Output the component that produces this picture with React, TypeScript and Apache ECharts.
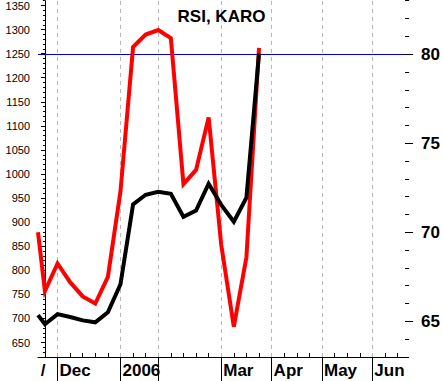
import { useEffect, useRef } from 'react';
import * as echarts from 'echarts';

// weekly positions (-0.55 is the left edge of the plot, where both lines enter)
const weekIndex = [-0.55, 0, 1, 2, 3, 4, 5, 6, 7, 8, 9, 10, 11, 12, 13, 14, 15, 16, 17];
// RSI (right axis)
const rsiValues = [70.0, 66.7, 68.25, 67.2, 66.4, 66.0, 67.5, 72.3, 80.4, 81.1, 81.35, 80.9, 72.7, 73.5, 76.45, 69.3, 64.7, 68.6, 80.35];
// KARO price (left axis)
const karoValues = [707, 688, 709, 703, 696, 692, 713, 771, 937, 957, 963, 959, 911, 924, 980, 936, 901, 951, 1250];

const monthTicks = [1, 6, 9, 14, 18, 22, 26];
const monthLabelValues = [-0.5, 1, 6, 14, 18, 22, 26];
const monthLabels = ['/', 'Dec', '2006', 'Mar', 'Apr', 'May', 'Jun'];

const leftTicks = [650, 700, 750, 800, 850, 900, 950, 1000, 1050, 1100, 1150, 1200, 1250, 1300, 1350];
const rightTicks = [65, 70, 75, 80];
const rsiLevel = 80;

export default function App() {
  const ref = useRef<HTMLDivElement>(null);
  useEffect(() => {
    if (!ref.current) return;
    const chart = echarts.init(ref.current, null, { renderer: 'svg' });
    const weekTicks = Array.from({ length: 29 }, (_, i) => i);
    const leftMinor: number[] = [];
    for (let v = 630; v <= 1360; v += 10) leftMinor.push(v);
    const rightMinor: number[] = [];
    for (let v = 63; v <= 83; v += 1) rightMinor.push(v);

    const xRange = { min: -0.55, max: 28.6 };
    chart.setOption({
      animation: false,
      title: {
        text: 'RSI, KARO',
        left: 'center',
        top: 3,
        textStyle: { fontSize: 17, fontWeight: 'bold', fontFamily: 'Liberation Sans', color: '#000' },
      },
      grid: { left: 38, right: 37.5, top: 0, bottom: 24 },
      xAxis: [
        {
          type: 'value', position: 'bottom', ...xRange,
          axisLine: { show: true, lineStyle: { color: '#000', width: 1 } },
          axisTick: { show: true, inside: true, length: 4, customValues: weekTicks, lineStyle: { color: '#000' } },
          axisLabel: { show: false },
          splitLine: { show: false },
        },
        {
          type: 'value', position: 'bottom', offset: 0, ...xRange,
          axisLine: { show: false },
          axisTick: { show: true, length: 24, customValues: monthTicks, lineStyle: { color: '#000' } },
          axisLabel: {
            show: true, customValues: monthLabelValues, align: 'left', margin: 5, padding: [0, 0, 0, 2],
            fontSize: 17, fontWeight: 'bold', fontFamily: 'Liberation Sans', color: '#000',
            formatter: (v: number) => {
              const i = monthLabelValues.indexOf(v);
              return i >= 0 ? monthLabels[i] : '';
            },
          },
          splitLine: { show: false },
        },
      ],
      yAxis: [
        {
          type: 'value', position: 'left', min: 620, max: 1360,
          axisLine: { show: true, lineStyle: { color: '#000', width: 1 } },
          axisTick: { show: true, length: 4, customValues: leftTicks, lineStyle: { color: '#000' } },
          axisLabel: {
            show: true, customValues: leftTicks, margin: 8, fontSize: 11, fontFamily: 'Liberation Sans', color: '#000',
            formatter: (v: number) => String(v),
          },
          splitLine: { show: false },
        },
        {
          type: 'value', position: 'left', min: 620, max: 1360,
          axisLine: { show: false },
          axisTick: { show: true, length: 2, customValues: leftMinor, lineStyle: { color: '#000' } },
          axisLabel: { show: false },
          splitLine: { show: false },
        },
        {
          type: 'value', position: 'right', min: 63, max: 83,
          axisLine: { show: false },
          axisTick: { show: true, length: 8, customValues: rightTicks, lineStyle: { color: '#000' } },
          axisLabel: {
            show: true, customValues: rightTicks, margin: 16, fontSize: 17, fontWeight: 'bold', fontFamily: 'Liberation Sans', color: '#000',
            formatter: (v: number) => String(v),
          },
          splitLine: { show: false },
        },
        {
          type: 'value', position: 'right', min: 63, max: 83,
          axisLine: { show: false },
          axisTick: { show: true, length: 4, customValues: rightMinor, lineStyle: { color: '#000' } },
          axisLabel: { show: false },
          splitLine: { show: false },
        },
      ],
      series: [
        {
          type: 'line', name: 'RSI', xAxisIndex: 0, yAxisIndex: 2,
          data: weekIndex.map((x, i) => [x, rsiValues[i]]),
          showSymbol: false, symbol: 'none', clip: true, z: 2,
          lineStyle: { color: '#ff0000', width: 4, join: 'miter' },
          markLine: {
            silent: true, symbol: 'none', z: 1,
            label: { show: false },
            data: [
              ...monthTicks.map((m) => ({ xAxis: m, lineStyle: { color: '#b8b8b8', type: [4, 4], width: 1 } })),
              { yAxis: rsiLevel, lineStyle: { color: '#0000cc', type: 'solid', width: 1 } },
            ],
          },
        },
        {
          type: 'line', name: 'KARO', xAxisIndex: 0, yAxisIndex: 0,
          data: weekIndex.map((x, i) => [x, karoValues[i]]),
          showSymbol: false, symbol: 'none', clip: true, z: 3,
          lineStyle: { color: '#000000', width: 4, join: 'miter' },
        },
      ],
    });
    return () => chart.dispose();
  }, []);
  return <div ref={ref} style={{ position: 'fixed', left: 0, top: 0, width: 443, height: 381, background: '#fff' }} />;
}
